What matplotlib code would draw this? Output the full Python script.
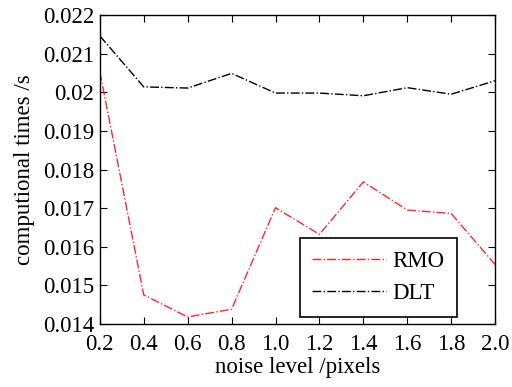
import matplotlib
matplotlib.use('Agg')
import matplotlib.pyplot as plt

plt.rcParams['font.family'] = ['Liberation Serif', 'DejaVu Serif']
plt.rcParams['mathtext.fontset'] = 'stix'

noise = [0.2, 0.4, 0.6, 0.8, 1.0, 1.2, 1.4, 1.6, 1.8, 2.0]
rmo = [0.02053, 0.01475, 0.01418, 0.01438, 0.01701, 0.01632, 0.01768, 0.01695, 0.01686, 0.01554]
dlt = [0.02146, 0.02014, 0.02011, 0.02049, 0.01998, 0.01998, 0.01991, 0.02012, 0.01995, 0.0203]
xticks = ['0.2', '0.4', '0.6', '0.8', '1.0', '1.2', '1.4', '1.6', '1.8', '2.0']
yticks = [0.014, 0.015, 0.016, 0.017, 0.018, 0.019, 0.02, 0.021, 0.022]
ylabels = ['0.014', '0.015', '0.016', '0.017', '0.018', '0.019', '0.02', '0.021', '0.022']

fs = 16.5

fig = plt.figure(figsize=(5.12, 3.87), dpi=100)
ax = fig.add_axes([0.195, 0.163, 0.772, 0.798])

ax.plot(noise, rmo, '-.', color='#ff2828', lw=1.0, label='RMO')
ax.plot(noise, dlt, '-.', color='black', lw=1.0, label='DLT')

ax.set_xlim(0.2, 2.0)
ax.set_ylim(0.014, 0.022)
ax.set_xticks(noise)
ax.set_xticklabels(xticks)
ax.set_yticks(yticks)
ax.set_yticklabels(ylabels)
ax.tick_params(direction='in', top=True, right=True, labelsize=fs, length=5, width=0.8, pad=4)
ax.tick_params(axis='x', pad=7)
for s in ax.spines.values():
    s.set_linewidth(1.0)

ax.set_xlabel('noise level /pixels', fontsize=fs, labelpad=2)
ax.set_ylabel('computional times /s', fontsize=fs, labelpad=6)

leg = ax.legend(loc='lower right', bbox_to_anchor=(0.904, 0.023), borderaxespad=0,
                fontsize=fs, fancybox=False, edgecolor='black', framealpha=1,
                handlelength=3.2, handletextpad=0.3, borderpad=0.55, labelspacing=0.5)
leg.get_frame().set_linewidth(1.2)

fig.savefig('out.png', dpi=100)
